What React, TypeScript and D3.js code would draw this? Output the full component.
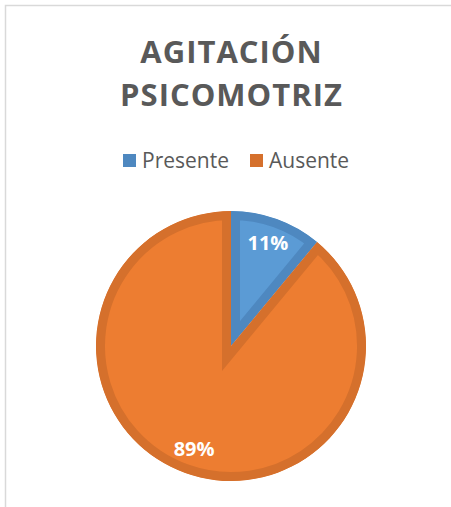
import React from 'react'
import * as d3 from 'd3'

const categories = ['Presente', 'Ausente']
const values = [11, 89]
const fills = ['#5b9bd5', '#ed7d31']
const edges = ['#4e88c0', '#d5702c']
const titleLines = ['AGITACIÓN', 'PSICOMOTRIZ']

const width = 451
const height = 507
const cx = 231
const cy = 346
const radius = 135
const edgeWidth = 9

const pie = d3
  .pie<number>()
  .sort(null)
  .startAngle(0)
  .endAngle(2 * Math.PI)
  .value(d => d)

const arc = d3.arc<d3.PieArcDatum<number>>().innerRadius(0).outerRadius(radius)
const labelArc = d3
  .arc<d3.PieArcDatum<number>>()
  .innerRadius(109)
  .outerRadius(109)

const total = d3.sum(values)
const fmt = d3.format('.0%')

// legend item offsets (square + text)
const legendX = [123, 250]

export default function App() {
  const slices = pie(values)
  return (
    <svg
      width={width}
      height={height}
      style={{ position: 'absolute', left: 0, top: 0 }}
      fontFamily="'Open Sans', sans-serif"
    >
      <rect x={0} y={0} width={width} height={height} fill="#fff" />
      <rect
        x={5.5}
        y={5.5}
        width={width + 20}
        height={height + 20}
        fill="none"
        stroke="#d9d9d9"
        strokeWidth={1.5}
      />
      <g textAnchor="middle" fill="#595959" fontWeight="bold" fontSize={31} letterSpacing={1}>
        {titleLines.map((t, i) => (
          <text key={i} x={231.5} y={63 + i * 43}>
            {t}
          </text>
        ))}
      </g>
      <g fontSize={21} fill="#595959">
        {categories.map((c, i) => (
          <g key={c} transform={`translate(${legendX[i]},154)`}>
            <rect x={0} y={0} width={13} height={13} fill={edges[i]} />
            <text x={19} y={14}>
              {c}
            </text>
          </g>
        ))}
      </g>
      <defs>
        {slices.map((s, i) => (
          <clipPath key={i} id={`clip-${i}`}>
            <path d={arc(s) || ''} />
          </clipPath>
        ))}
      </defs>
      <g transform={`translate(${cx},${cy})`}>
        {slices.map((s, i) => (
          <path
            key={i}
            d={arc(s) || ''}
            fill={fills[i]}
            stroke={edges[i]}
            strokeWidth={edgeWidth * 2}
            strokeLinejoin="miter"
            clipPath={`url(#clip-${i})`}
          />
        ))}
        {slices.map((s, i) => {
          const [lx, ly] = labelArc.centroid(s)
          return (
            <text
              key={i}
              x={lx}
              y={ly}
              dy="0.35em"
              textAnchor="middle"
              fill="#fff"
              fontWeight="bold"
              fontSize={20}
            >
              {fmt(s.data / total)}
            </text>
          )
        })}
      </g>
    </svg>
  )
}
